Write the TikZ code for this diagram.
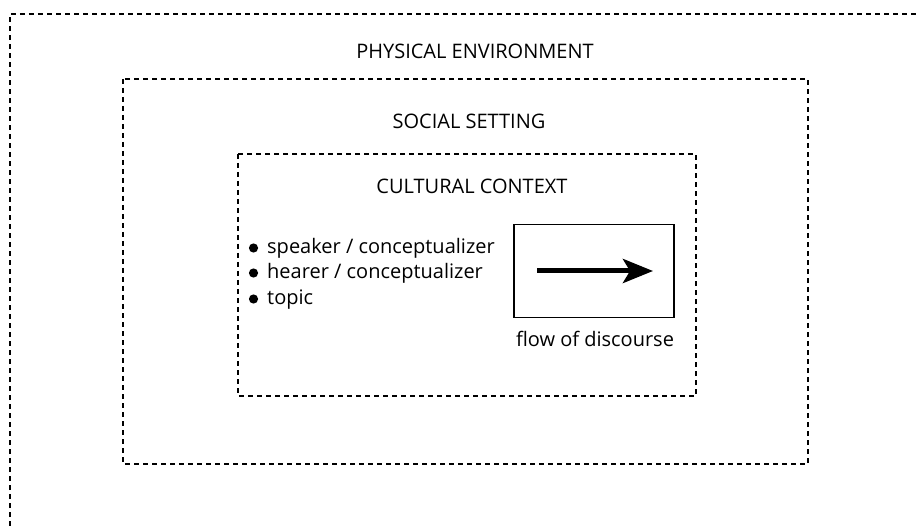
\documentclass[tikz,border=0pt]{standalone}
\usepackage{fontspec}
\setmainfont{Open Sans}
\usetikzlibrary{arrows.meta,positioning}

\begin{document}
\begin{tikzpicture}[x=1pt,y=-1pt,>=Stealth,
	dotbox/.style={draw, line width=1.5pt, dash pattern=on 5pt off 4pt},
	lbl/.style={font=\fontsize{20}{25.5}\selectfont, inner sep=0pt, anchor=base}]
			\useasboundingbox (0,0) rectangle (917,526);
			
			% nested settings
			\draw[dotbox] (10,526) -- (10,14) -- (917,14);
			\draw[dotbox] (123,79) rectangle (808,464);
			\draw[dotbox] (238,154) rectangle (696,396);
			
			\node[lbl] (physical) at (475,59) {PHYSICAL ENVIRONMENT};
			\node[lbl] (social) at (469,129) {SOCIAL SETTING};
			\node[lbl] (cultural) at (472,194) {CULTURAL CONTEXT};
			
			\node[lbl, anchor=base west] (speaker) at (267,254) {speaker / conceptualizer};
			\node[lbl, anchor=base west] (hearer) at (267,279) {hearer / conceptualizer};
			\node[lbl, anchor=base west] (topic) at (267,305) {topic};
			\foreach \n in {speaker,hearer,topic}
				\fill ([xshift=-13.5pt,yshift=6pt]\n.base west) circle (4.6pt);
			
			% discourse box
			\node[draw, line width=1.5pt, minimum width=160pt, minimum height=93pt] (flowbox) at (594,271) {};
			\node[lbl] (flow) at (595,346) {flow of discourse};
			\coordinate (flowstart) at (537,271);
			\coordinate (flowend) at (653,271);
			\draw[-{Stealth[length=30pt,width=24pt,inset=7pt]}, line width=5pt] (flowstart) -- (flowend);
\end{tikzpicture}
\end{document}
